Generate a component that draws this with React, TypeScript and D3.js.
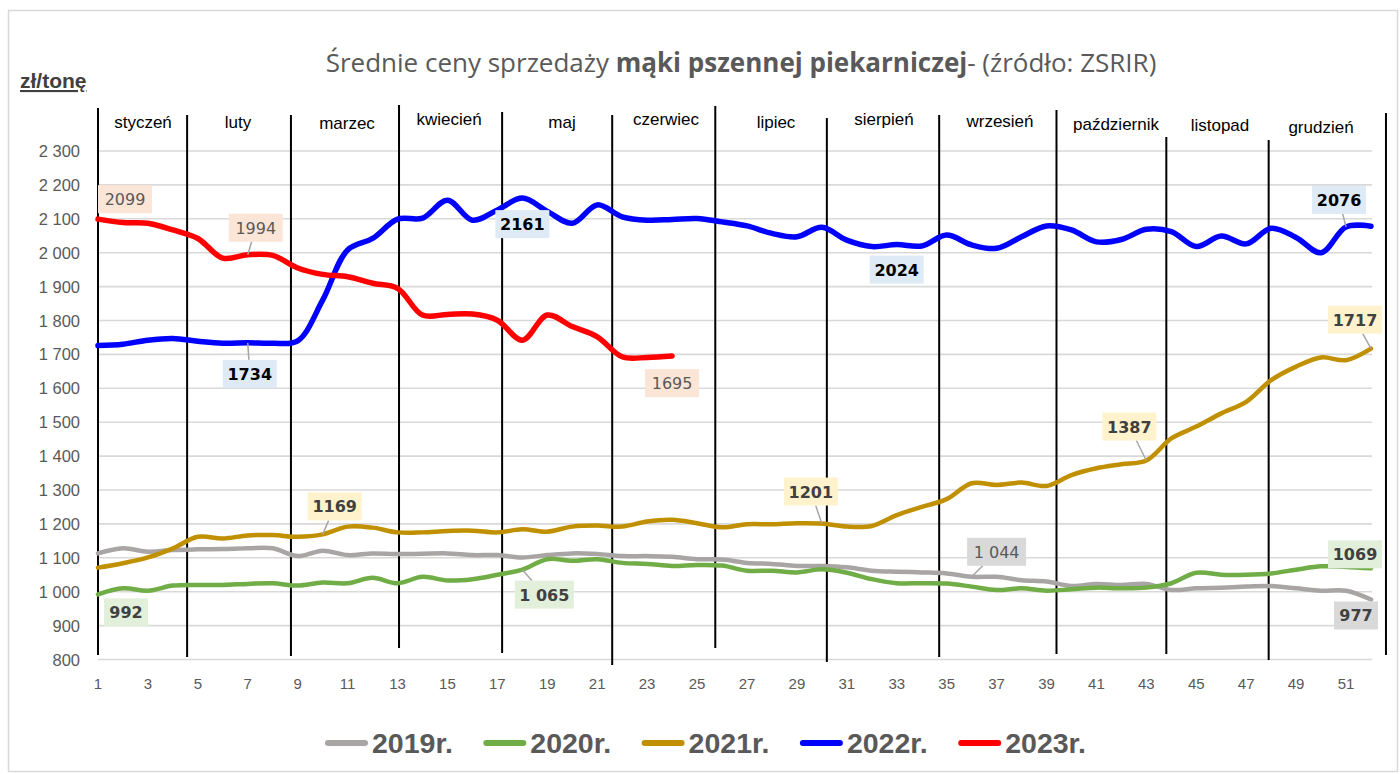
import React from 'react';
import * as d3 from 'd3';

// ---------- DATA ----------
const weeks: number[] = [
  1, 2, 3, 4, 5, 6, 7, 8, 9, 10, 11, 12, 13, 14, 15, 16, 17, 18, 19, 20, 21, 22, 23, 24, 25, 26,
  27, 28, 29, 30, 31, 32, 33, 34, 35, 36, 37, 38, 39, 40, 41, 42, 43, 44, 45, 46, 47, 48, 49, 50, 51, 52,
];

const s2019: number[] = [
  1113, 1128, 1118, 1123, 1125, 1126, 1128, 1128, 1105, 1121,
  1108, 1113, 1111, 1112, 1113, 1108, 1108, 1101, 1108, 1113,
  1111, 1105, 1105, 1103, 1096, 1095, 1085, 1082, 1076, 1076,
  1072, 1062, 1059, 1057, 1054, 1044, 1044, 1034, 1030, 1017,
  1023, 1020, 1023, 1005, 1010, 1012, 1015, 1017, 1010, 1003,
  1003, 977,
];
const s2020: number[] = [
  992, 1010, 1003, 1018, 1020, 1020, 1023, 1025, 1018, 1027,
  1025, 1041, 1025, 1044, 1033, 1037, 1050, 1065, 1096, 1091,
  1096, 1085, 1082, 1076, 1079, 1077, 1062, 1062, 1057, 1066,
  1056, 1037, 1025, 1025, 1024, 1015, 1005, 1010, 1003, 1007,
  1012, 1010, 1012, 1025, 1056, 1050, 1050, 1054, 1065, 1075,
  1073, 1069,
];
const s2021: number[] = [
  1071, 1084, 1101, 1128, 1162, 1157, 1166, 1167, 1162, 1169,
  1192, 1189, 1175, 1175, 1179, 1180, 1175, 1184, 1177, 1192,
  1195, 1192, 1207, 1212, 1202, 1190, 1199, 1199, 1202, 1201,
  1192, 1194, 1226, 1250, 1273, 1320, 1315, 1322, 1312, 1344,
  1364, 1376, 1387, 1452, 1487, 1526, 1560, 1624, 1664, 1691,
  1683, 1717,
];
const s2022: number[] = [
  1726, 1730, 1742, 1747, 1739, 1733, 1734, 1733, 1740, 1860,
  2008, 2042, 2099, 2102, 2155, 2096, 2126, 2161, 2122, 2087,
  2141, 2106, 2096, 2098, 2101, 2091, 2079, 2057, 2047, 2075,
  2037, 2018, 2024, 2020, 2052, 2023, 2013, 2047, 2079, 2067,
  2032, 2039, 2069, 2062, 2018, 2049, 2026, 2072, 2045, 2000,
  2076, 2078,
];
const s2023: number[] = [
  2099, 2089, 2087, 2067, 2042, 1984, 1994, 1992, 1955, 1936,
  1929, 1910, 1895, 1816, 1818, 1819, 1801, 1742, 1816, 1782,
  1752, 1693, 1691, 1695,
];

const seriesNames: string[] = ['2019r.', '2020r.', '2021r.', '2022r.', '2023r.'];
const seriesValues: number[][] = [s2019, s2020, s2021, s2022, s2023];

const monthNames: string[] = [
  'styczeń', 'luty', 'marzec', 'kwiecień', 'maj', 'czerwiec',
  'lipiec', 'sierpień', 'wrzesień', 'październik', 'listopad', 'grudzień',
];
// month separators, in week units
const monthBounds: number[] = [1, 4.57, 8.73, 13.06, 17.19, 21.6, 25.73, 30.2, 34.7, 39.4, 43.8, 47.9, 52.6];

const yTicks: number[] = [800, 900, 1000, 1100, 1200, 1300, 1400, 1500, 1600, 1700, 1800, 1900, 2000, 2100, 2200, 2300];
const xTicks: number[] = [1, 3, 5, 7, 9, 11, 13, 15, 17, 19, 21, 23, 25, 27, 29, 31, 33, 35, 37, 39, 41, 43, 45, 47, 49, 51];

// data labels: series index, week, text
const labelSeries: number[] = [4, 4, 4, 3, 3, 3, 3, 2, 2, 2, 2, 0, 1, 0, 1, 1];
const labelWeeks: number[] = [1, 7, 24, 7, 18, 33, 51, 52, 43, 30, 10, 36, 52, 52, 18, 1];
const labelTexts: string[] = ['2099', '1994', '1695', '1734', '2161', '2024', '2076', '1717', '1387', '1201', '1169', '1 044', '1069', '977', '1 065', '992'];

// ---------- STYLE / LAYOUT ----------
const W = 1400;
const H = 774;
const colors = ['#A9A5A5', '#70AD47', '#C09000', '#0000FF', '#FF0000'];
const widths = [4.5, 4.5, 4.5, 5.5, 5.5];
const labelFill = ['#D9D9D9', '#E2EFDA', '#FFF2CC', '#DEEBF7', '#FBE5D6'];
// per-label style & offsets
const labelStyle = [
  { dx: 27, dy: -20, bold: false, color: '#595959', leader: false },
  { dx: 8, dy: -27, bold: false, color: '#595959', leader: true },
  { dx: 0, dy: 27, bold: false, color: '#595959', leader: false },
  { dx: 2, dy: 31, bold: true, color: '#000000', leader: true },
  { dx: 0, dy: 26, bold: true, color: '#000000', leader: false },
  { dx: 0, dy: 25, bold: true, color: '#000000', leader: false },
  { dx: -7, dy: -27, bold: true, color: '#000000', leader: true },
  { dx: -16, dy: -29, bold: true, color: '#404040', leader: true },
  { dx: -17, dy: -34, bold: true, color: '#404040', leader: true },
  { dx: -11, dy: -32, bold: true, color: '#404040', leader: true },
  { dx: 12, dy: -28, bold: true, color: '#404040', leader: true },
  { dx: 25, dy: -25, bold: false, color: '#595959', leader: true },
  { dx: -16, dy: -14, bold: true, color: '#404040', leader: false },
  { dx: -15, dy: 16, bold: true, color: '#404040', leader: false },
  { dx: 22, dy: 25, bold: true, color: '#404040', leader: true },
  { dx: 28, dy: 18, bold: true, color: '#404040', leader: false },
];
const sepTop = [108, 115, 115, 105, 112, 115, 106, 118, 115, 110, 137, 140, 113];
const sepBottom = [655, 657, 656, 648, 653, 665, 648, 662, 657, 654, 654, 660, 655];
const monthLabelX = [143, 238, 347, 449, 562, 666, 776, 884, 1000, 1116, 1220, 1321];
const monthLabelY = [128, 128, 129, 125, 128, 125, 128, 125, 127, 130, 131, 133];

const x = d3.scaleLinear().domain([1, 52]).range([98, 1371]);
const y = d3.scaleLinear().domain([800, 2300]).range([659.5, 151]);

const fmtThousands = (v: number) =>
  v >= 1000 ? `${Math.floor(v / 1000)} ${String(v % 1000).padStart(3, '0')}` : String(v);

const labelFont = "'DejaVu Sans', Verdana, sans-serif";
const mainFont = "'Liberation Sans', Arial, sans-serif";

export default function App() {
  const line = d3
    .line<number>()
    .x((_, i) => x(weeks[i]))
    .y((d) => y(d))
    .curve(d3.curveCatmullRom.alpha(0.5));

  const legendX0 = 325;
  const legendStep = 158.3;
  const legendY = 743;

  return (
    <div style={{ position: 'absolute', left: 0, top: 0 }}>
      <svg width={W} height={H} style={{ display: 'block', background: '#fff' }}>
        <rect x={8.5} y={10.5} width={1389} height={761} fill="#fff" stroke="#D9D9D9" strokeWidth={1.5} />

        {/* title */}
        <text x={741} y={72} textAnchor="middle" fontFamily="'Open Sans', sans-serif" fontSize={26} fill="#595959">
          <tspan>Średnie ceny sprzedaży </tspan>
          <tspan fontWeight="bold">mąki pszennej piekarniczej</tspan>
          <tspan>- (źródło: ZSRIR)</tspan>
        </text>

        {/* unit */}
        <text x={20} y={88} fontFamily={mainFont} fontSize={21} fontWeight="bold" fill="#404040" textDecoration="underline">
          zł/tonę
        </text>

        {/* gridlines */}
        {yTicks.map((t) => (
          <line key={t} x1={x(1)} x2={x(52) + 1} y1={y(t)} y2={y(t)} stroke="#D9D9D9" strokeWidth={1.6} />
        ))}

        {/* y labels */}
        {yTicks.map((t) => (
          <text key={t} x={80} y={y(t) + 6} textAnchor="end" fontFamily={mainFont} fontSize={16.5} fill="#595959">
            {fmtThousands(t)}
          </text>
        ))}

        {/* x labels */}
        {xTicks.map((t) => (
          <text key={t} x={x(t)} y={689} textAnchor="middle" fontFamily={mainFont} fontSize={15} fill="#595959">
            {t}
          </text>
        ))}

        {/* month separators */}
        {monthBounds.map((b, i) => (
          <line key={i} x1={x(b)} x2={x(b)} y1={sepTop[i]} y2={sepBottom[i]} stroke="#000" strokeWidth={2} />
        ))}

        {/* month names */}
        {monthNames.map((m, i) => (
          <text key={m} x={monthLabelX[i]} y={monthLabelY[i]} textAnchor="middle" fontFamily={mainFont} fontSize={17} fill="#000">
            {m}
          </text>
        ))}

        {/* series lines */}
        {seriesValues.map((vals, si) => (
          <path
            key={si}
            d={line(vals) || ''}
            fill="none"
            stroke={colors[si]}
            strokeWidth={widths[si]}
            strokeLinecap="round"
            strokeLinejoin="round"
          />
        ))}

        {/* data labels */}
        {labelTexts.map((txt, li) => {
          const si = labelSeries[li];
          const wk = labelWeeks[li];
          const st = labelStyle[li];
          const px = x(wk);
          const py = y(seriesValues[si][wk - 1]);
          const cx = px + st.dx;
          const cy = py + st.dy;
          const digits = txt.replace(/ /g, '').length;
          const spaces = txt.length - digits;
          const bw = digits * 10 + spaces * 5 + 14;
          const bh = 28;
          let leader = null;
          if (st.leader) {
            const vx = px - cx;
            const vy = py - cy;
            const tx = Math.abs(vx) > 0 ? bw / 2 / Math.abs(vx) : Infinity;
            const ty = Math.abs(vy) > 0 ? bh / 2 / Math.abs(vy) : Infinity;
            const t = Math.min(tx, ty);
            const sx = cx + vx * t;
            const sy = cy + vy * t;
            leader = <line x1={sx} y1={sy} x2={px} y2={py} stroke="#A6A6A6" strokeWidth={1.5} />;
          }
          return (
            <g key={li}>
              {leader}
              <rect x={cx - bw / 2} y={cy - bh / 2} width={bw} height={bh} fill={labelFill[si]} />
              <text
                x={cx}
                y={cy + 6}
                textAnchor="middle"
                fontFamily={labelFont}
                fontSize={16}
                fontWeight={st.bold ? 'bold' : 'normal'}
                fill={st.color}
              >
                {txt}
              </text>
            </g>
          );
        })}

        {/* legend */}
        {seriesNames.map((n, i) => {
          const lx = legendX0 + i * legendStep;
          return (
            <g key={n}>
              <line x1={lx + 3} x2={lx + 40} y1={legendY} y2={legendY} stroke={colors[i]} strokeWidth={6} strokeLinecap="round" />
              <text x={lx + 47} y={legendY + 10} fontFamily={mainFont} fontSize={28.5} fontWeight="bold" fill="#595959">
                {n}
              </text>
            </g>
          );
        })}
      </svg>
    </div>
  );
}
